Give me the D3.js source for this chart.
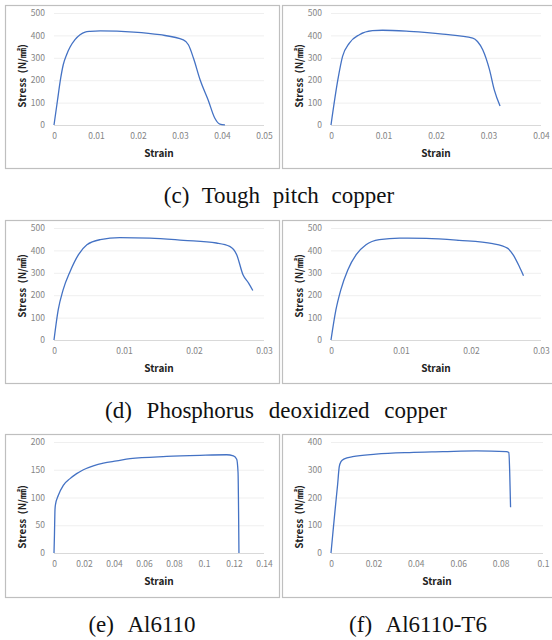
<!DOCTYPE html>
<html>
<head>
<meta charset="utf-8">
<script src="https://cdn.jsdelivr.net/npm/d3@7"></script>
<style>
  body { margin: 0; background: #fff; }
  svg { display: block; }
</style>
</head>
<body>
<svg width="552" height="640"></svg>
<script>
// (c) tough pitch copper, two specimens
const tpc1Strain = [0, 0.0008, 0.0016, 0.0022, 0.003, 0.0038, 0.005, 0.0062, 0.0074, 0.0086, 0.011, 0.019, 0.0252, 0.0308, 0.032, 0.0332, 0.0348, 0.0367, 0.0383, 0.0395, 0.0407];
const tpc1Stress = [0, 106, 210, 269, 314, 347, 381, 403, 415, 418, 420, 415, 403, 380, 358, 299, 201, 112, 30, 4, 1];
const tpc2Strain = [0, 0.0013, 0.0022, 0.0035, 0.0054, 0.0079, 0.0098, 0.0149, 0.0213, 0.027, 0.0279, 0.0289, 0.0302, 0.0311, 0.0322];
const tpc2Stress = [0, 201, 306, 366, 403, 421, 423, 418, 406, 388, 373, 336, 246, 157, 85];

// (d) phosphorus deoxidized copper
const pdc1Strain = [0, 0.0006, 0.0013, 0.0023, 0.0035, 0.0047, 0.0066, 0.0094, 0.0137, 0.0185, 0.0232, 0.0251, 0.0261, 0.027, 0.0278, 0.0284];
const pdc1Stress = [0, 134, 224, 306, 381, 425, 448, 457, 455, 445, 433, 418, 381, 291, 254, 221];
const pdc2Strain = [0, 0.0007, 0.0014, 0.0024, 0.0036, 0.005, 0.0069, 0.0098, 0.0136, 0.0183, 0.0231, 0.0252, 0.026, 0.0269, 0.0275];
const pdc2Stress = [0, 134, 224, 313, 381, 425, 448, 455, 454, 445, 430, 410, 381, 328, 287];

// (e) Al6110, (f) Al6110-T6
const alStrain = [0, 0.0003, 0.0006, 0.0009, 0.0029, 0.0062, 0.0107, 0.0151, 0.0196, 0.0262, 0.0329, 0.0418, 0.0507, 0.0751, 0.0973, 0.1151, 0.1196, 0.1218, 0.1227, 0.1231, 0.1233];
const alStress = [0, 32, 74, 86, 104, 122, 134, 143, 150, 157, 162, 166, 170, 174, 176, 177, 175, 169, 145, 61, 0];
const alT6Strain = [0, 0.0008, 0.002, 0.0031, 0.0039, 0.0047, 0.0063, 0.0102, 0.0212, 0.037, 0.0528, 0.0685, 0.0827, 0.0839, 0.0843, 0.0847];
const alT6Stress = [0, 65, 161, 245, 311, 329, 339, 347, 356, 362, 365, 368, 365, 362, 290, 165];

// tick values
const ticksX05 = [0, 0.01, 0.02, 0.03, 0.04, 0.05];
const ticksX04 = [0, 0.01, 0.02, 0.03, 0.04];
const ticksX03 = [0, 0.01, 0.02, 0.03];
const ticksX14 = [0, 0.02, 0.04, 0.06, 0.08, 0.1, 0.12, 0.14];
const ticksX10 = [0, 0.02, 0.04, 0.06, 0.08, 0.1];
const ticksY500 = [0, 100, 200, 300, 400, 500];
const ticksY400 = [0, 100, 200, 300, 400];
const ticksY200 = [0, 50, 100, 150, 200];

const captions = [
    { text: "(c) Tough pitch copper", x: 279, y: 203, ws: 7 },
    { text: "(d) Phosphorus deoxidized copper", x: 276, y: 418, ws: 9 },
    { text: "(e) Al6110", x: 142, y: 632, ws: 9 },
    { text: "(f) Al6110-T6", x: 418, y: 632, ws: 9 }
];

const xLabel = "Strain";
const yLabel = "Stress  (N/㎟)";
const lineColor = "#4472C4";

// layout of each chart box: frame position, plot size, label centre
const panels = [
    { fx: 5,   fy: 5,   fw: 274, pw: 210, ph: 112, xt: ticksX05, yt: ticksY500, strain: tpc1Strain, stress: tpc1Stress, ly: 71 },
    { fx: 282, fy: 5,   fw: 280, pw: 210, ph: 112, xt: ticksX04, yt: ticksY500, strain: tpc2Strain, stress: tpc2Stress, ly: 71 },
    { fx: 5,   fy: 220, fw: 274, pw: 210, ph: 112, xt: ticksX03, yt: ticksY500, strain: pdc1Strain, stress: pdc1Stress, ly: 66 },
    { fx: 282, fy: 220, fw: 280, pw: 210, ph: 112, xt: ticksX03, yt: ticksY500, strain: pdc2Strain, stress: pdc2Stress, ly: 66 },
    { fx: 5,   fy: 434, fw: 274, pw: 210, ph: 111, xt: ticksX14, yt: ticksY200, strain: alStrain, stress: alStress, ly: 83 },
    { fx: 282, fy: 434, fw: 280, pw: 212, ph: 111, xt: ticksX10, yt: ticksY400, strain: alT6Strain, stress: alT6Stress, ly: 83 }
];

const svg = d3.select("svg");
const sansFont = "'Noto Sans CJK KR', 'Noto Sans', sans-serif";
const fmt = d3.format("~g");

panels.forEach((p) => {
    const fh = 163;
    const g = svg.append("g").attr("transform", "translate(" + p.fx + "," + p.fy + ")");

    // chart frame
    g.append("rect")
        .attr("x", 0.5).attr("y", 0.5)
        .attr("width", p.fw).attr("height", fh)
        .attr("fill", "#fff")
        .attr("stroke", "#bfbfbf")
        .attr("stroke-width", 1.2);

    const plot = g.append("g").attr("transform", "translate(49,8)");

    const x = d3.scaleLinear().domain([0, d3.max(p.xt)]).range([0, p.pw]);
    const y = d3.scaleLinear().domain([0, d3.max(p.yt)]).range([p.ph, 0]);

    // y axis with gridlines
    const yAxis = plot.append("g")
        .call(d3.axisLeft(y).tickValues(p.yt).tickSize(-p.pw).tickPadding(9).tickFormat(fmt));
    yAxis.select(".domain").remove();
    yAxis.selectAll("line").attr("stroke", (d) => d === 0 ? "#d9d9d9" : "#efefef");
    yAxis.selectAll("text")
        .attr("fill", "#858585")
        .style("font-family", sansFont)
        .style("font-size", "8.5px");

    // x axis labels only
    const xAxis = plot.append("g")
        .attr("transform", "translate(0," + p.ph + ")")
        .call(d3.axisBottom(x).tickValues(p.xt).tickSize(0).tickPadding(8).tickFormat(fmt));
    xAxis.select(".domain").remove();
    xAxis.selectAll("text")
        .attr("fill", "#858585")
        .style("font-family", sansFont)
        .style("font-size", "8.5px");

    // stress-strain curve
    const pts = p.strain.map((s, i) => [s, p.stress[i]]);
    plot.append("path")
        .datum(pts)
        .attr("fill", "none")
        .attr("stroke", lineColor)
        .attr("stroke-width", 1.3)
        .attr("stroke-linejoin", "round")
        .attr("d", d3.line().x((d) => x(d[0])).y((d) => y(d[1])).curve(d3.curveMonotoneX));

    // axis titles
    plot.append("text")
        .attr("x", p.pw / 2)
        .attr("y", p.ph + 32)
        .attr("text-anchor", "middle")
        .style("font-family", sansFont)
        .style("font-size", "10px")
        .style("font-weight", "bold")
        .attr("fill", "#222")
        .text(xLabel);

    g.append("text")
        .attr("transform", "translate(17," + p.ly + ") rotate(-90)")
        .attr("text-anchor", "middle")
        .attr("dy", "0.35em")
        .style("font-family", sansFont)
        .style("font-size", "10px")
        .style("font-weight", "bold")
        .style("white-space", "pre")
        .attr("fill", "#222")
        .text(yLabel);
});

// figure captions
svg.selectAll("text.caption")
    .data(captions)
    .enter().append("text")
        .classed("caption", true)
        .attr("x", (d) => d.x)
        .attr("y", (d) => d.y)
        .attr("text-anchor", "middle")
        .style("font-family", "'Liberation Serif', 'Times New Roman', serif")
        .style("font-size", "23px")
        .style("word-spacing", (d) => d.ws + "px")
        .attr("fill", "#111")
        .text((d) => d.text);
</script>
</body>
</html>
